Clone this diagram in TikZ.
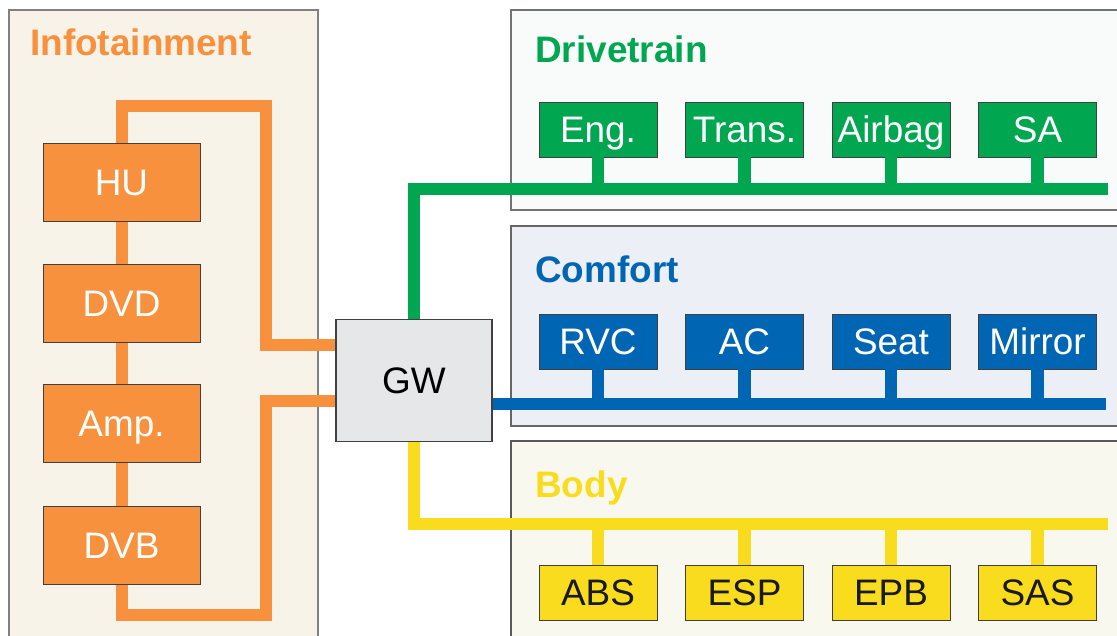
\documentclass[tikz,border=0pt]{standalone}
\usepackage{fontspec}
\setmainfont{Liberation Sans}
\usetikzlibrary{calc}

\definecolor{infoor}{HTML}{F7913D}
\definecolor{drivegr}{HTML}{00A650}
\definecolor{comfbl}{HTML}{0066B3}
\definecolor{bodyye}{HTML}{FADC1E}
\definecolor{gwgray}{HTML}{E6E7E9}
\definecolor{infobg}{HTML}{F7F3E9}
\definecolor{drivebg}{HTML}{F9FAFA}
\definecolor{comfbg}{HTML}{ECEFF5}
\definecolor{bodybg}{HTML}{F9F8EF}

\begin{document}
\begin{tikzpicture}[x=0.02cm,y=-0.02cm,
  txt/.style={font=\fontsize{21}{25}\selectfont},
  title/.style={font=\fontsize{21}{25}\selectfont\bfseries,anchor=base west,inner sep=0pt},
  ecu/.style={txt,draw=black!75,line width=0.5pt,inner sep=0pt,
    text height=15pt,text depth=0pt,minimum width=2.36cm,minimum height=1.1cm},
  bus/.style={line width=7pt,line cap=butt,line join=miter}]
  \useasboundingbox (0,0) rectangle (1117,636);
  \clip (0,0) rectangle (1117,636);

  % domains
  \draw[black!50,line width=0.6pt,fill=infobg] (9,10) rectangle (318,650);
  \draw[black!55,line width=0.6pt,fill=drivebg] (511,10) rectangle (1130,210);
  \draw[black!60,line width=0.6pt,fill=comfbg] (511,226) rectangle (1130,426);
  \draw[black!65,line width=0.6pt,fill=bodybg] (511,441) rectangle (1130,650);

  \node[title,infoor] (tinfo) at (30,55) {Infotainment};
  \node[title,drivegr] (tdrive) at (535,62) {Drivetrain};
  \node[title,comfbl] (tcomf) at (535,282) {Comfort};
  \node[title,bodyye] (tbody) at (535,497) {Body};

  % gateway
  \node[txt,draw=black!75,line width=0.6pt,fill=gwgray,inner sep=0pt,
    minimum width=3.12cm,minimum height=2.44cm] (gw) at (414,380.5) {GW};

  % buses
  \coordinate (ifa) at (266,345);
  \coordinate (ifb) at (266,401);
  \coordinate (ifc) at (122,106);
  \coordinate (ifd) at (122,615);
  \coordinate (dtend) at (1108,189);
  \coordinate (cfend) at (1106,404);
  \coordinate (bdend) at (1108,524);
  \draw[bus,infoor] (ifa -| gw.west) -- (ifa) |- (ifc) -- (ifd) -| (ifb) -- (ifb -| gw.west);
  \draw[bus,drivegr] (gw.north) |- (dtend);
  \draw[bus,comfbl] (gw.east |- cfend) -- (cfend);
  \draw[bus,bodyye] (gw.south) |- (bdend);

  % infotainment
  \node[ecu,fill=infoor,text=white,minimum width=3.14cm,minimum height=1.56cm] (hu) at (121.5,182) {HU};
  \node[ecu,fill=infoor,text=white,minimum width=3.14cm,minimum height=1.56cm] (dvd) at (121.5,303) {DVD};
  \node[ecu,fill=infoor,text=white,minimum width=3.14cm,minimum height=1.56cm] (amp) at (121.5,423) {Amp.};
  \node[ecu,fill=infoor,text=white,minimum width=3.14cm,minimum height=1.56cm] (dvb) at (121.5,545) {DVB};

  % drivetrain
  \node[ecu,fill=drivegr,text=white] (eng) at (598,129.5) {Eng.};
  \node[ecu,fill=drivegr,text=white] (trans) at (744.5,129.5) {Trans.};
  \node[ecu,fill=drivegr,text=white] (airbag) at (891,129.5) {Airbag};
  \node[ecu,fill=drivegr,text=white] (sa) at (1037.5,129.5) {SA};
  \draw[bus,drivegr] (eng.south) -- (eng.south |- dtend);
  \draw[bus,drivegr] (trans.south) -- (trans.south |- dtend);
  \draw[bus,drivegr] (airbag.south) -- (airbag.south |- dtend);
  \draw[bus,drivegr] (sa.south) -- (sa.south |- dtend);

  % comfort
  \node[ecu,fill=comfbl,text=white] (rvc) at (598,341.5) {RVC};
  \node[ecu,fill=comfbl,text=white] (ac) at (744.5,341.5) {AC};
  \node[ecu,fill=comfbl,text=white] (seat) at (891,341.5) {Seat};
  \node[ecu,fill=comfbl,text=white] (mirror) at (1037.5,341.5) {Mirror};
  \draw[bus,comfbl] (rvc.south) -- (rvc.south |- cfend);
  \draw[bus,comfbl] (ac.south) -- (ac.south |- cfend);
  \draw[bus,comfbl] (seat.south) -- (seat.south |- cfend);
  \draw[bus,comfbl] (mirror.south) -- (mirror.south |- cfend);

  % body
  \node[ecu,fill=bodyye,text=black!90] (abs) at (598,592.5) {ABS};
  \node[ecu,fill=bodyye,text=black!90] (esp) at (744.5,592.5) {ESP};
  \node[ecu,fill=bodyye,text=black!90] (epb) at (891,592.5) {EPB};
  \node[ecu,fill=bodyye,text=black!90] (sas) at (1037.5,592.5) {SAS};
  \draw[bus,bodyye] (abs.north) -- (abs.north |- bdend);
  \draw[bus,bodyye] (esp.north) -- (esp.north |- bdend);
  \draw[bus,bodyye] (epb.north) -- (epb.north |- bdend);
  \draw[bus,bodyye] (sas.north) -- (sas.north |- bdend);
\end{tikzpicture}
\end{document}
